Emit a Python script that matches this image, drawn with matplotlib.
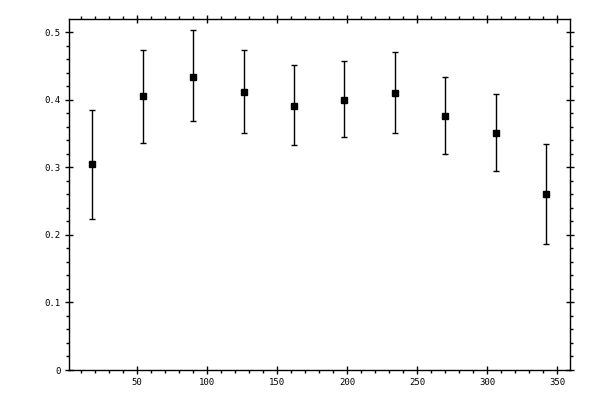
import matplotlib
matplotlib.use('Agg')
import matplotlib.pyplot as plt
from matplotlib.ticker import MultipleLocator, FuncFormatter

# bin centres and measured values with error bar ends
angle = [18, 54, 90, 126, 162, 198, 234, 270, 306, 342]
value = [0.305, 0.405, 0.434, 0.412, 0.391, 0.400, 0.410, 0.376, 0.351, 0.261]
upper = [0.385, 0.473, 0.503, 0.474, 0.451, 0.457, 0.470, 0.433, 0.408, 0.335]
lower = [0.224, 0.336, 0.368, 0.351, 0.333, 0.345, 0.351, 0.320, 0.294, 0.187]

err_lo = [v - l for v, l in zip(value, lower)]
err_hi = [u - v for u, v in zip(upper, value)]

fig = plt.figure(figsize=(6, 4), dpi=100)
ax = fig.add_axes([0.115, 0.075, 0.835, 0.877])

ax.errorbar(angle, value, yerr=[err_lo, err_hi], fmt='s', color='black',
            markersize=5, elinewidth=1, capsize=2, capthick=1)

ax.set_xlim(1.4, 359)
ax.set_ylim(0, 0.519)

ax.xaxis.set_major_locator(MultipleLocator(50))
ax.xaxis.set_minor_locator(MultipleLocator(10))
ax.yaxis.set_major_locator(MultipleLocator(0.1))
ax.yaxis.set_minor_locator(MultipleLocator(0.02))
ax.yaxis.set_major_formatter(FuncFormatter(lambda v, p: '%g' % round(v, 2)))

for s in ax.spines.values():
    s.set_linewidth(1)

ax.tick_params(which='major', direction='inout', length=6, width=1,
               top=True, right=True, labelsize=6.5, pad=3)
ax.tick_params(which='minor', direction='out', length=2.5, width=1,
               top=True, right=True)
for lab in ax.get_xticklabels() + ax.get_yticklabels():
    lab.set_family('DejaVu Sans Mono')

fig.savefig('out.png', dpi=100)
